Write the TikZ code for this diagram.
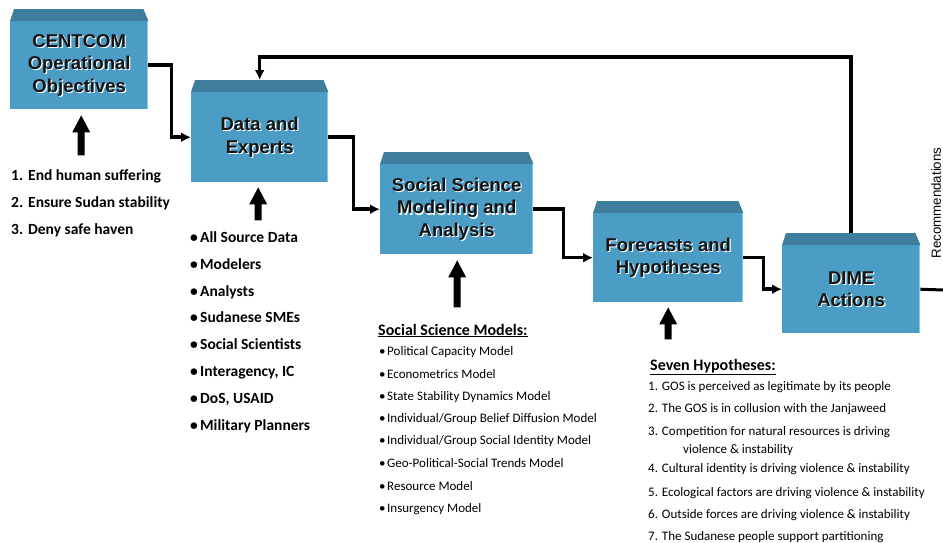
\documentclass[tikz,border=0pt]{standalone}
\usepackage{fontspec}
\setmainfont{Liberation Sans}
\newfontfamily\carl{Carlito}
\usetikzlibrary{arrows.meta,calc}
\definecolor{boxblue}{HTML}{4C9DC6}
\definecolor{bevelblue}{HTML}{3E7E9C}
\definecolor{edgeblue}{HTML}{86C8EA}
\definecolor{txtdark}{HTML}{141414}
\tikzset{
 boxbody/.style={fill=boxblue, draw=none, inner sep=0, anchor=north west},
 bevel/.style={fill=bevelblue},
 conn/.style={line width=3.5pt, -{Latex[length=10pt,width=10pt]}},
 plainline/.style={line width=3pt},
 boxtxt/.style={font=\fontsize{18.5}{22.5}\selectfont\bfseries, align=center, text=txtdark, inner sep=0},
 boxshadow/.style={boxtxt, text=white},
 lst/.style={font=\carl\fontsize{15.5}{18}\selectfont\bfseries, anchor=base west, inner sep=0},
 sm/.style={font=\carl\fontsize{13}{16}\selectfont, anchor=base west, inner sep=0},
 hdr/.style={font=\carl\fontsize{16}{18}\selectfont\bfseries, anchor=base west, inner sep=0},
 rec/.style={font=\fontsize{13.3}{15}\selectfont, rotate=90, inner sep=0},
}
\newcommand\dbox[5]{%
 \node[boxbody, minimum width=#4, minimum height=#5] (#1) at (#2,#3) {};
 \fill[bevel] (#1.north west) -- ++(4,-12) -- ($(#1.north east)+(-5,-12)$) -- (#1.north east) -- cycle;
 \fill[edgeblue] ($(#1.north east)+(-1.5,0)$) rectangle (#1.south east);
 \coordinate (#1t) at ($(#1.north)+(0,-12)$);
}
\newcommand\blabel[2]{%
 \node[boxshadow] (#1s) at ($(#1.center)+(1.2,1.2)$) {#2};
 \node[boxtxt] (#1l) at (#1.center) {#2};
}
\newcommand\barrow[3]{%
 \coordinate (#1) at #2;
 \fill (#1) -- ++(9,17) -- ++(-5.5,0) -- ++(0,#3-17) -- ++(-7,0) -- ++(0,17-#3) -- ++(-5.5,0) -- cycle;
}
\begin{document}
\begin{tikzpicture}[x=1pt,y=-1pt]
\fill[white] (0,0) rectangle (943,542);
\useasboundingbox (0,0) rectangle (943,542);

% boxes
\dbox{b1}{10}{21}{138}{88}
\dbox{b2}{191}{92}{137}{90}
\dbox{b3}{380}{164}{153}{90}
\dbox{b4}{593}{213}{150}{89}
\dbox{b5}{782}{245}{138}{88}

\blabel{b1}{CENTCOM\\Operational\\Objectives}
\blabel{b2}{Data and\\Experts}
\blabel{b3}{Social Science\\Modeling and\\Analysis}
\blabel{b4}{Forecasts and\\Hypotheses}
\blabel{b5}{DIME\\Actions}

% connectors
\draw[conn] (b1.east) -- ++(23,0) |- (b2.west);
\draw[conn] (b2.east) -- ++(25,0) |- (b3.west);
\draw[conn] (b3.east) -- ++(30,0) |- (b4.west);
\draw[conn] (b4.east) -- ++(20,0) |- (b5.west);
\draw[conn] (b5t) -- ++(0,-176) -| (b2t);
\coordinate (rout) at (943,290);
\draw[plainline] (b5.east) -- (rout);
\node[rec] (recl) at (936,203) {Recommendations};

% block arrows
\barrow{a1}{($(b1.south)+(2,6)$)}{40}
\barrow{a2}{($(b2.south)+(-1.5,5)$)}{33}
\barrow{a3}{($(b3.south)+(0.5,6)$)}{47}
\barrow{a4}{($(b4.south)+(0,5)$)}{32}

% objectives
\node[lst] (o1) at (11,180) {\makebox[17pt][l]{1.}End human suffering};
\node[lst] (o2) at (11,207) {\makebox[17pt][l]{2.}Ensure Sudan stability};
\node[lst] (o3) at (11,234) {\makebox[17pt][l]{3.}Deny safe haven};

% data & experts
\node[lst] (d1) at (190,242) {\makebox[10pt][l]{•}All Source Data};
\node[lst] (d2) at (190,269) {\makebox[10pt][l]{•}Modelers};
\node[lst] (d3) at (190,296) {\makebox[10pt][l]{•}Analysts};
\node[lst] (d4) at (190,322) {\makebox[10pt][l]{•}Sudanese SMEs};
\node[lst] (d5) at (190,349) {\makebox[10pt][l]{•}Social Scientists};
\node[lst] (d6) at (190,376) {\makebox[10pt][l]{•}Interagency, IC};
\node[lst] (d7) at (190,403) {\makebox[10pt][l]{•}DoS, USAID};
\node[lst] (d8) at (190,430) {\makebox[10pt][l]{•}Military Planners};

% models
\node[hdr] (mh) at (378,335) {\underline{Social Science Models:}};
\node[sm] (m1) at (379,355) {\makebox[8pt][l]{•}Political Capacity Model};
\node[sm] (m2) at (379,378) {\makebox[8pt][l]{•}Econometrics Model};
\node[sm] (m3) at (379,400) {\makebox[8pt][l]{•}State Stability Dynamics Model};
\node[sm] (m4) at (379,422) {\makebox[8pt][l]{•}Individual/Group Belief Diffusion Model};
\node[sm] (m5) at (379,444) {\makebox[8pt][l]{•}Individual/Group Social Identity  Model};
\node[sm] (m6) at (379,467) {\makebox[8pt][l]{•}Geo-Political-Social Trends Model};
\node[sm] (m7) at (379,490) {\makebox[8pt][l]{•}Resource Model};
\node[sm] (m8) at (379,512) {\makebox[8pt][l]{•}Insurgency Model};

% hypotheses
\node[hdr] (hh) at (650,370) {\underline{Seven Hypotheses:}};
\node[sm] (h1) at (648,390) {1. GOS is perceived as legitimate by its people};
\node[sm] (h2) at (648,412) {2. The GOS is in collusion with the Janjaweed};
\node[sm] (h3) at (648,435) {3. Competition for natural resources  is driving};
\node[sm] (h3b) at (683,453) {violence \& instability};
\node[sm] (h4) at (648,472) {4. Cultural identity is driving violence \& instability};
\node[sm] (h5) at (648,496) {5. Ecological factors are driving violence \& instability};
\node[sm] (h6) at (648,518) {6. Outside forces are driving violence \& instability};
\node[sm] (h7) at (648,540) {7. The Sudanese people support partitioning};
\end{tikzpicture}
\end{document}
